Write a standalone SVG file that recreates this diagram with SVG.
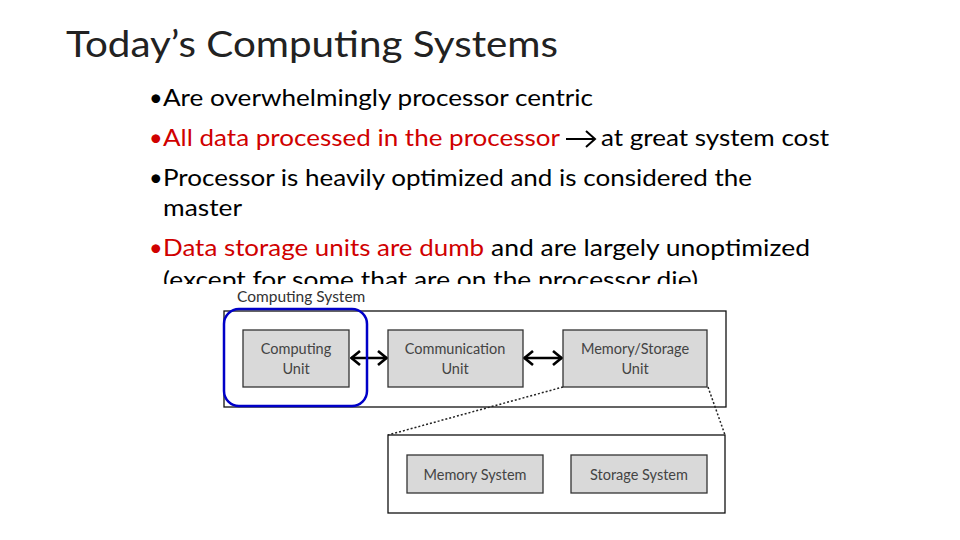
<svg xmlns="http://www.w3.org/2000/svg" width="960" height="540" viewBox="0 0 960 540">
<defs>
<style>
.t{font-family:Lato,"Liberation Sans",sans-serif;}
.title{font-size:37px;fill:#222;}
.b{font-size:23.5px;fill:#000;}
.r{fill:#d00000;}
.box{fill:#d9d9d9;stroke:#333;stroke-width:1.3;}
.frame{fill:#fff;stroke:#111;stroke-width:1.3;}
.bt{font-size:14.5px;fill:#444;text-anchor:middle;}
.conn{stroke:#000;stroke-width:2.5;fill:none;}
.dot{stroke:#222;stroke-width:1.5;stroke-dasharray:2 2;fill:none;}
</style>
<marker id="ah" viewBox="0 0 11 16" refX="10" refY="8" markerWidth="11" markerHeight="16" orient="auto-start-reverse" markerUnits="userSpaceOnUse" preserveAspectRatio="none">
<path d="M1,1 L9.5,8 L1,15" fill="none" stroke="#000" stroke-width="2.6"/>
</marker>
<clipPath id="clipLast"><rect x="140" y="250" width="700" height="34"/></clipPath>
</defs>
<rect width="960" height="540" fill="#fff"/>
<text class="t title" x="66" y="57" textLength="492" lengthAdjust="spacingAndGlyphs">Today’s Computing Systems</text>
<g class="t b">
<text x="149" y="106">•</text>
<text x="163" y="106" textLength="430" lengthAdjust="spacingAndGlyphs">Are overwhelmingly processor centric</text>
<text x="149" y="146" class="r">•</text>
<text x="163" y="146" class="r" textLength="397" lengthAdjust="spacingAndGlyphs">All data processed in the processor</text>
<text x="601" y="146" textLength="228" lengthAdjust="spacingAndGlyphs">at great system cost</text>
<text x="149" y="186">•</text>
<text x="163" y="186" textLength="589" lengthAdjust="spacingAndGlyphs">Processor is heavily optimized and is considered the</text>
<text x="163" y="216" textLength="79" lengthAdjust="spacingAndGlyphs">master</text>
<text x="149" y="256" class="r">•</text>
<text x="163" y="256" class="r" textLength="321" lengthAdjust="spacingAndGlyphs">Data storage units are dumb</text>
<text x="491" y="256" textLength="319" lengthAdjust="spacingAndGlyphs">and are largely unoptimized</text>
<g clip-path="url(#clipLast)"><text x="163" y="288" textLength="535" lengthAdjust="spacingAndGlyphs">(except for some that are on the processor die)</text></g>
</g>
<path d="M566,139 H594 M586,131 L595,139 L586,147" fill="none" stroke="#000" stroke-width="2"/>
<text class="t" x="237" y="302" font-size="15.5" fill="#333">Computing System</text>
<rect class="frame" x="224" y="311" width="502" height="96"/>
<rect class="frame" x="388" y="435" width="337" height="78"/>
<g id="connectors">
<line class="conn" x1="351" y1="358" x2="387" y2="358" marker-start="url(#ah)" marker-end="url(#ah)"/>
<line class="conn" x1="524" y1="358" x2="562" y2="358" marker-start="url(#ah)" marker-end="url(#ah)"/>
<line class="dot" x1="563" y1="387" x2="388" y2="435"/>
<line class="dot" x1="708" y1="387" x2="725" y2="435"/>
</g>
<g id="computing-unit">
<rect class="box" x="243" y="330" width="106" height="57"/>
<text class="t bt" x="296" y="354">Computing</text>
<text class="t bt" x="296" y="374">Unit</text>
</g>
<g id="communication-unit">
<rect class="box" x="388" y="330" width="135" height="57"/>
<text class="t bt" x="455" y="354">Communication</text>
<text class="t bt" x="455" y="374">Unit</text>
</g>
<g id="memory-storage-unit">
<rect class="box" x="563" y="330" width="144" height="57"/>
<text class="t bt" x="635" y="354">Memory/Storage</text>
<text class="t bt" x="635" y="374">Unit</text>
</g>
<g id="memory-system">
<rect class="box" x="407" y="455" width="136" height="38"/>
<text class="t bt" x="475" y="480">Memory System</text>
</g>
<g id="storage-system">
<rect class="box" x="571" y="455" width="136" height="38"/>
<text class="t bt" x="639" y="480">Storage System</text>
</g>
<g id="highlight">
<rect x="224" y="309" width="143" height="97" rx="15" fill="none" stroke="#0000c8" stroke-width="2.5"/>
</g>
</svg>
